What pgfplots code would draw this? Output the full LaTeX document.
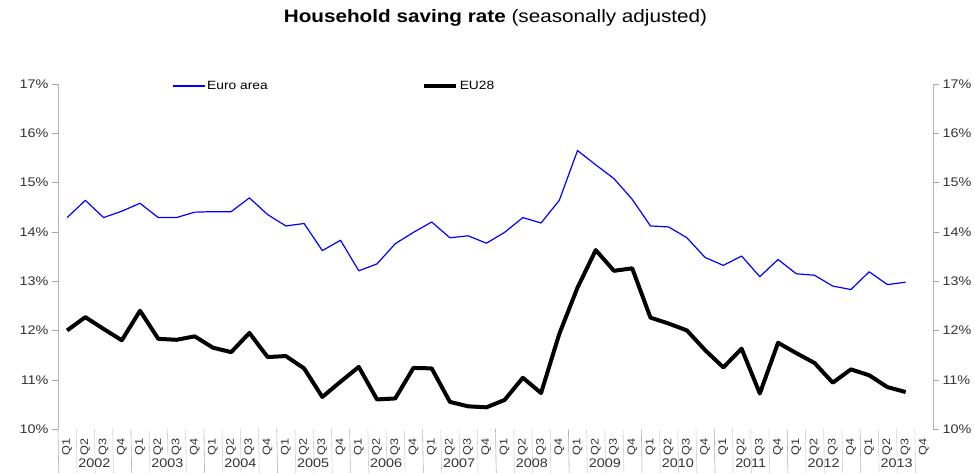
\documentclass[border=0pt]{standalone}
\usepackage{pgfplots}
\pgfplotsset{compat=1.18}
\usepackage{pgfplotstable}
\usepackage{fontspec}
\setmainfont{Liberation Sans}[FakeStretch=1.15]

% quarterly household saving rate, %, 2002Q1 .. 2013Q3
\pgfplotstableread{
q   ea     eu
0   14.29  12.00
1   14.64  12.27
2   14.29  12.03
3   14.42  11.80
4   14.58  12.40
5   14.29  11.83
6   14.29  11.81
7   14.40  11.88
8   14.41  11.65
9   14.41  11.56
10  14.69  11.95
11  14.35  11.46
12  14.12  11.48
13  14.17  11.23
14  13.62  10.65
15  13.83  10.96
16  13.21  11.26
17  13.35  10.60
18  13.76  10.62
19  13.99  11.24
20  14.20  11.23
21  13.88  10.55
22  13.92  10.46
23  13.77  10.44
24  13.99  10.59
25  14.29  11.04
26  14.18  10.73
27  14.64  11.93
28  15.65  12.87
29  15.36  13.63
30  15.08  13.21
31  14.66  13.26
32  14.12  12.26
33  14.10  12.14
34  13.88  12.00
35  13.48  11.60
36  13.32  11.25
37  13.51  11.63
38  13.09  10.72
39  13.44  11.75
40  13.15  11.54
41  13.12  11.34
42  12.90  10.94
43  12.83  11.21
44  13.19  11.09
45  12.93  10.85
46  12.98  10.75
}\saving

\pgfplotsset{
  base/.style={
    scale only axis, width=875pt, height=345pt,
    xmin=-0.5, xmax=47.5, ymin=10, ymax=17,
    ytick={10,...,17},
    yticklabels={10\%,11\%,12\%,13\%,14\%,15\%,16\%,17\%},
    yticklabel style={font=\fontsize{12.5}{14}\selectfont, text=black!80},
    tick align=outside, major tick length=6pt,
    ytick style={gray!70},
    y axis line style={-, gray!60, line width=0.8pt},
    clip=false,
  }
}

\begin{document}
\begin{tikzpicture}
\path[use as bounding box] (-58pt,-43pt) rectangle (917pt,429pt);
\begin{axis}[base,
  axis y line*=left, axis x line*=bottom,
  x axis line style={draw=none},
  xtick={0,...,47},
  xticklabels={Q1,Q2,Q3,Q4,Q1,Q2,Q3,Q4,Q1,Q2,Q3,Q4,Q1,Q2,Q3,Q4,Q1,Q2,Q3,Q4,Q1,Q2,Q3,Q4,
               Q1,Q2,Q3,Q4,Q1,Q2,Q3,Q4,Q1,Q2,Q3,Q4,Q1,Q2,Q3,Q4,Q1,Q2,Q3,Q4,Q1,Q2,Q3,Q4},
  xticklabel style={rotate=90, anchor=east, font=\fontsize{11}{12}\selectfont, text=black!80},
  xtick style={draw=none},
  legend columns=2,
  legend style={at={(axis description cs:0.130,0.994)}, anchor=west, draw=none, fill=none,
    inner sep=0pt, font=\fontsize{12}{14}\selectfont,
    /tikz/every even column/.append style={column sep=152pt}},
  legend image code/.code={\draw[#1] (0pt,0pt) -- (32pt,0pt);},
]
\addplot[blue, line width=1.2pt, line join=round] table[x=q, y=ea] {\saving};
\addlegendentry{Euro area}
\addplot[black, line width=4pt, line join=round] table[x=q, y=eu] {\saving};
\addlegendentry{EU28}

% category separators
\pgfplotsinvokeforeach{0.5,1.5,2.5,4.5,5.5,6.5,8.5,9.5,10.5,12.5,13.5,14.5,16.5,17.5,18.5,20.5,21.5,22.5,24.5,25.5,26.5,28.5,29.5,30.5,32.5,33.5,34.5,36.5,37.5,38.5,40.5,41.5,42.5,44.5,45.5,46.5}{
  \draw[gray!35, line width=0.6pt] (axis cs:#1,10) -- ++(0,-22pt);
}
\pgfplotsinvokeforeach{-0.5,3.5,7.5,11.5,15.5,19.5,23.5,27.5,31.5,35.5,39.5,43.5}{
  \draw[gray!60, line width=0.6pt] (axis cs:#1,10) -- ++(0,-43pt);
}
% year labels
\pgfplotsforeachungrouped \i/\yr in {1.5/2002,5.5/2003,9.5/2004,13.5/2005,17.5/2006,21.5/2007,25.5/2008,29.5/2009,33.5/2010,37.5/2011,41.5/2012,45.5/2013}{
  \edef\tmp{\noexpand\node[font=\noexpand\fontsize{12.5}{14}\noexpand\selectfont, text=black!80] at (axis cs:\i,10) [yshift=-34pt] {\yr};}
  \tmp
}
% title
\node[font=\fontsize{18}{20}\selectfont, anchor=center] at (axis description cs:0.5,1) [yshift=66pt]
  {\textbf{Household saving rate} (seasonally adjusted)};
\end{axis}

\begin{axis}[base,
  axis y line*=right, axis x line=none,
]
\addplot[draw=none] coordinates {(0,10)};
\end{axis}
\end{tikzpicture}
\end{document}
